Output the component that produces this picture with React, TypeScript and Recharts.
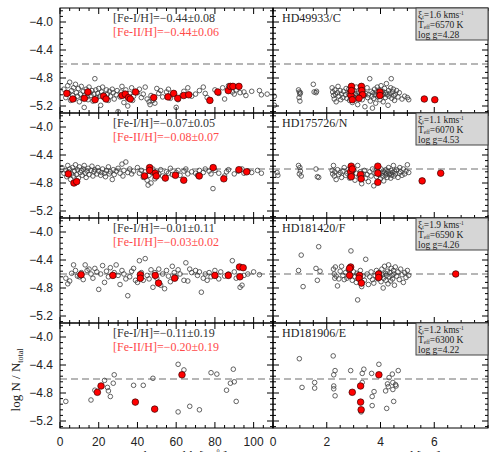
import { ScatterChart, Scatter, XAxis, YAxis, ReferenceLine } from 'recharts'

type Pt = [number, number]

// ---- values: [equivalent width mÅ | excitation eV, log N/Ntotal] ----
const STARS = ['HD49933/C', 'HD175726/N', 'HD181420/F', 'HD181906/E']
const FE1_TEXT = ['[Fe-I/H]=−0.44±0.08', '[Fe-I/H]=−0.07±0.05', '[Fe-I/H]=−0.01±0.11', '[Fe-I/H]=−0.11±0.19']
const FE2_TEXT = ['[Fe-II/H]=−0.44±0.06', '[Fe-II/H]=−0.08±0.07', '[Fe-II/H]=−0.03±0.02', '[Fe-II/H]=−0.20±0.19']
const XI_T = ['1.6', '1.1', '1.9', '1.2']
const T_EFF = ['6570', '6070', '6590', '6300']
const LOG_G = ['4.28', '4.53', '4.26', '4.22']
const SOLAR_FE = -4.6

const EW_TICKS = [0, 5, 10, 15, 20, 25, 30, 35, 40, 45, 50, 55, 60, 65, 70, 75, 80, 85, 90, 95, 100, 105, 110]
const EW_LABELS = [0, 20, 40, 60, 80, 100]
const EP_TICKS = [0, 0.5, 1, 1.5, 2, 2.5, 3, 3.5, 4, 4.5, 5, 5.5, 6, 6.5, 7, 7.5, 8]
const EP_LABELS = [0, 2, 4, 6]
const LOGN_TICKS = [-5.28, -5.2, -5.12, -5.04, -4.96, -4.88, -4.8, -4.72, -4.64, -4.56, -4.48, -4.4, -4.32, -4.24, -4.16, -4.08, -4.0, -3.92, -3.84]
const LOGN_LABELS = [-4.0, -4.4, -4.8, -5.2]

// HD49933
const s1FeIEw: Pt[] = [[2,-4.96],[3,-5.08],[4,-4.91],[4.5,-5.02],[5,-4.86],[5.5,-5.12],[6,-4.98],[6.5,-5.05],[7,-4.94],[7.5,-5.10],[8,-4.89],[8.5,-5.01],[9,-5.06],[9.5,-4.95],[10,-5.14],[10.5,-5.03],[11,-4.92],[11.5,-5.09],[12,-4.99],[12.5,-5.22],[13,-5.04],[13.5,-4.96],[14,-5.07],[14.5,-5.11],[15,-4.93],[15.5,-5.01],[16,-5.05],[16.5,-4.98],[17,-5.13],[17.5,-5.03],[18,-4.81],[18.5,-4.97],[19,-5.08],[19.5,-5.02],[20,-4.95],[20.5,-5.06],[21,-5.19],[21.5,-5.00],[22,-4.93],[22.5,-5.04],[23,-5.09],[24,-4.97],[24.5,-5.03],[25,-5.12],[25.5,-4.99],[26,-5.06],[27,-4.96],[27.5,-5.01],[28,-5.10],[29,-5.04],[29.5,-4.98],[30,-5.28],[31,-5.07],[31.5,-5.00],[32,-4.92],[33,-5.15],[33.5,-5.05],[34,-4.97],[35,-5.20],[35.5,-5.09],[36,-5.02],[37,-4.94],[37.5,-5.12],[38,-5.06],[40,-5.01],[41,-4.96],[42,-5.08],[43,-5.03],[44,-4.93],[45,-5.10],[46,-5.14],[46.5,-5.18],[47,-5.05],[48,-5.12],[49,-5.16],[50,-4.95],[51,-5.02],[52,-4.98],[53,-5.07],[55,-5.00],[56,-4.96],[57,-5.09],[58,-5.03],[60,-5.22],[61,-5.11],[63,-5.05],[64,-4.99],[66,-4.94],[68,-5.06],[70,-5.03],[72,-4.98],[74,-4.93],[75,-5.02],[76,-5.08],[80,-4.97],[82,-5.02],[84,-4.94],[85,-5.10],[87,-4.91],[89,-5.00],[90,-5.03],[91,-4.97],[93,-5.01],[95,-5.00],[96,-5.05],[99,-4.99],[103,-4.98],[104,-5.04],[107,-5.03]]
const s1FeIIEw: Pt[] = [[3.5,-5.02],[6.6,-5.10],[12.6,-5.09],[14.4,-5.00],[18.1,-5.11],[22.5,-5.06],[23.8,-5.10],[32,-5.05],[33.7,-5.03],[35.4,-5.08],[36.3,-5.10],[39,-5.00],[48.4,-5.08],[55.8,-5.07],[58.7,-5.02],[60.8,-5.09],[63.9,-5.05],[66.5,-5.04],[77.4,-5.12],[81.5,-5.00],[86.9,-4.98],[88,-4.92],[89.3,-4.92],[92.4,-4.92]]
const s1FeIEp: Pt[] = [[0.05,-5.06],[0.05,-5.19],[0.95,-4.97],[0.98,-5.00],[1.0,-5.03],[0.97,-5.08],[1.0,-5.13],[1.02,-5.01],[1.5,-4.89],[1.53,-5.00],[1.6,-5.01],[1.62,-4.99],[2.2,-4.94],[2.22,-5.00],[2.25,-5.05],[2.28,-5.10],[2.3,-4.97],[2.32,-5.03],[2.35,-5.14],[2.4,-5.01],[2.42,-4.92],[2.45,-5.06],[2.5,-4.98],[2.52,-5.11],[2.55,-5.03],[2.6,-5.08],[2.62,-4.99],[2.7,-5.04],[2.72,-4.95],[2.75,-5.09],[2.8,-5.02],[2.82,-4.96],[2.85,-5.12],[2.9,-5.05],[2.92,-4.99],[2.95,-5.15],[3.0,-5.07],[3.02,-4.98],[3.05,-5.02],[3.08,-5.10],[3.1,-4.93],[3.12,-5.05],[3.15,-5.18],[3.2,-5.01],[3.22,-5.06],[3.25,-4.96],[3.3,-5.03],[3.32,-5.11],[3.35,-4.99],[3.4,-5.05],[3.42,-5.21],[3.45,-5.02],[3.5,-4.94],[3.52,-5.08],[3.55,-5.04],[3.6,-4.81],[3.62,-5.13],[3.65,-4.99],[3.68,-5.06],[3.7,-5.23],[3.72,-5.01],[3.75,-5.09],[3.78,-4.96],[3.8,-5.04],[3.82,-5.16],[3.85,-5.00],[3.88,-4.93],[3.9,-5.07],[3.92,-5.03],[3.95,-4.97],[3.98,-5.11],[4.0,-5.02],[4.02,-4.91],[4.05,-5.05],[4.08,-4.99],[4.1,-5.14],[4.12,-5.03],[4.15,-4.95],[4.18,-5.08],[4.2,-5.01],[4.22,-4.88],[4.25,-5.04],[4.28,-5.19],[4.3,-4.98],[4.32,-5.06],[4.35,-5.02],[4.38,-4.94],[4.4,-4.81],[4.42,-5.09],[4.45,-5.00],[4.48,-4.96],[4.5,-5.05],[4.52,-5.12],[4.55,-5.03],[4.6,-4.98],[4.65,-5.07],[4.7,-5.01],[4.8,-5.10],[4.9,-5.06],[5.0,-5.08],[5.05,-5.11]]
const s1FeIIEp: Pt[] = [[2.92,-4.92],[2.9,-5.00],[2.9,-5.05],[2.95,-5.11],[2.92,-4.98],[3.29,-4.92],[3.3,-4.98],[3.33,-5.04],[3.2,-5.09],[3.98,-5.00],[3.98,-5.05],[5.63,-5.10],[6.02,-5.11]]

// HD175726
const s2FeIEw: Pt[] = [[1,-4.58],[2,-4.66],[3,-4.62],[3.5,-4.71],[4,-4.55],[4.5,-4.64],[5,-4.60],[5.5,-4.75],[6,-4.67],[6.5,-4.58],[7,-4.70],[7.5,-4.63],[8,-4.54],[8.5,-4.68],[9,-4.61],[9.5,-4.73],[10,-4.57],[10.5,-4.65],[11,-4.62],[11.5,-4.69],[12,-4.60],[12.5,-4.55],[13,-4.66],[13.5,-4.72],[14,-4.63],[14.5,-4.59],[15,-4.68],[16,-4.62],[16.5,-4.56],[17,-4.70],[17.5,-4.64],[18,-4.61],[19,-4.67],[19.5,-4.58],[20,-4.63],[21,-4.69],[21.5,-4.65],[22,-4.60],[23,-4.66],[23.5,-4.71],[24,-4.62],[25,-4.57],[25.5,-4.67],[26,-4.64],[27,-4.75],[27.5,-4.61],[28,-4.68],[29,-4.63],[30,-4.59],[31,-4.66],[32,-4.53],[32.5,-4.70],[33,-4.62],[34,-4.50],[35,-4.65],[36,-4.60],[37,-4.67],[38,-4.63],[40,-4.58],[41,-4.66],[42,-4.62],[43,-4.72],[44,-4.64],[45,-4.76],[45.5,-4.83],[46,-4.69],[47,-4.80],[47.5,-4.65],[48,-4.60],[49,-4.74],[50,-4.63],[51,-4.67],[52,-4.61],[53,-4.70],[55,-4.64],[56,-4.66],[57,-4.59],[58,-4.68],[60,-4.65],[61,-4.62],[62,-4.69],[64,-4.63],[65,-4.60],[66,-4.67],[68,-4.64],[70,-4.66],[71,-4.69],[72,-4.62],[74,-4.65],[75,-4.60],[77,-4.63],[78,-4.67],[79,-4.88],[80,-4.62],[82,-4.66],[85,-4.70],[86,-4.64],[87,-4.61],[90,-4.67],[92,-4.63],[94,-4.60],[95,-4.66],[97,-4.63],[99,-4.65],[102,-4.62],[104,-4.66]]
const s2FeIIEw: Pt[] = [[4.3,-4.67],[7.2,-4.80],[8.6,-4.78],[46.3,-4.58],[46.3,-4.62],[43.7,-4.70],[49.2,-4.66],[49.7,-4.70],[54.4,-4.73],[59.6,-4.69],[63.9,-4.76],[71.9,-4.70],[79.1,-4.58],[84.6,-4.74],[92.4,-4.61],[96.4,-4.64]]
const s2FeIEp: Pt[] = [[0.15,-4.65],[0.18,-4.69],[0.95,-4.55],[1.0,-4.58],[1.02,-4.63],[0.98,-4.67],[1.05,-4.70],[1.6,-4.60],[1.65,-4.71],[1.7,-4.72],[2.2,-4.62],[2.22,-4.67],[2.25,-4.55],[2.28,-4.70],[2.3,-4.64],[2.35,-4.75],[2.4,-4.61],[2.45,-4.68],[2.5,-4.65],[2.55,-4.72],[2.6,-4.63],[2.65,-4.58],[2.7,-4.69],[2.75,-4.66],[2.8,-4.61],[2.85,-4.73],[2.9,-4.65],[2.95,-4.69],[3.0,-4.62],[3.05,-4.76],[3.1,-4.66],[3.15,-4.55],[3.2,-4.70],[3.25,-4.64],[3.3,-4.81],[3.35,-4.67],[3.4,-4.62],[3.45,-4.73],[3.5,-4.68],[3.55,-4.78],[3.6,-4.64],[3.65,-4.70],[3.7,-4.60],[3.75,-4.84],[3.8,-4.66],[3.85,-4.71],[3.9,-4.63],[3.95,-4.68],[4.0,-4.74],[4.02,-4.60],[4.05,-4.66],[4.08,-4.70],[4.1,-4.63],[4.12,-4.77],[4.15,-4.65],[4.18,-4.69],[4.2,-4.61],[4.22,-4.67],[4.25,-4.72],[4.28,-4.64],[4.3,-4.58],[4.32,-4.68],[4.35,-4.66],[4.38,-4.73],[4.4,-4.62],[4.42,-4.69],[4.45,-4.65],[4.48,-4.55],[4.5,-4.70],[4.52,-4.63],[4.55,-4.67],[4.6,-4.61],[4.65,-4.72],[4.7,-4.66],[4.72,-4.58],[4.75,-4.64],[4.8,-4.69],[4.85,-4.60],[4.9,-4.67],[4.95,-4.63],[5.0,-4.54],[5.05,-4.65]]
const s2FeIIEp: Pt[] = [[2.91,-4.56],[2.89,-4.64],[2.91,-4.71],[2.95,-4.60],[3.26,-4.68],[3.28,-4.74],[3.9,-4.56],[3.9,-4.66],[3.9,-4.79],[5.55,-4.77],[6.24,-4.66]]

// HD181420
const s3FeIEw: Pt[] = [[3,-4.66],[4,-4.74],[5,-4.70],[6,-4.59],[7,-4.47],[8,-4.55],[9,-4.63],[10,-4.64],[11,-4.58],[12,-4.68],[13,-4.47],[14,-4.55],[15,-4.53],[16,-4.60],[17,-4.66],[18,-4.52],[19,-4.57],[20,-4.82],[21,-4.60],[22,-4.48],[23,-4.72],[24,-4.56],[25,-4.64],[26,-4.51],[28,-4.58],[29,-4.47],[30,-4.62],[31,-4.75],[32,-4.55],[33,-4.60],[34,-4.67],[35,-4.91],[36,-4.64],[37,-4.56],[38,-4.52],[39,-4.69],[40,-4.72],[41,-4.41],[42,-4.58],[43,-4.69],[44,-4.38],[45,-4.62],[46,-4.67],[47,-4.54],[48,-4.79],[49,-4.58],[50,-4.66],[51,-4.53],[52,-4.76],[53,-4.60],[54,-4.81],[55,-4.55],[56,-4.63],[57,-4.71],[58,-4.49],[59,-4.58],[60,-4.65],[61,-4.54],[62,-4.60],[64,-4.69],[65,-4.44],[66,-4.70],[67,-4.53],[68,-4.58],[70,-4.55],[71,-4.62],[72,-4.57],[73,-4.86],[74,-4.66],[75,-4.60],[76,-4.69],[77,-4.58],[78,-4.64],[80,-4.55],[82,-4.67],[83,-4.57],[85,-4.63],[87,-4.60],[89,-4.41],[90,-4.57],[91,-4.66],[93,-4.79],[94,-4.76],[95,-4.62],[97,-4.60],[100,-4.57],[103,-4.61]]
const s3FeIIEw: Pt[] = [[10.9,-4.61],[27.3,-4.62],[41.5,-4.61],[41.5,-4.66],[49.2,-4.62],[50.9,-4.73],[59.2,-4.66],[80,-4.62],[86.9,-4.62],[92.7,-4.50],[94.6,-4.51],[92.9,-4.64]]
const s3FeIEp: Pt[] = [[0.95,-4.55],[1.05,-4.33],[1.12,-4.78],[1.6,-4.52],[1.65,-4.69],[1.7,-4.21],[1.75,-4.56],[2.25,-4.53],[2.28,-4.60],[2.3,-4.66],[2.32,-4.50],[2.35,-4.63],[2.4,-4.77],[2.45,-4.67],[2.5,-4.56],[2.55,-4.49],[2.6,-4.62],[2.65,-4.68],[2.7,-4.58],[2.75,-4.66],[2.8,-4.54],[2.85,-4.61],[2.9,-4.27],[2.95,-4.69],[3.0,-4.57],[3.05,-4.64],[3.1,-4.72],[3.12,-4.59],[3.15,-4.97],[3.2,-4.66],[3.25,-4.55],[3.3,-4.78],[3.35,-4.63],[3.4,-4.69],[3.45,-4.39],[3.5,-4.60],[3.55,-4.75],[3.6,-4.64],[3.65,-4.57],[3.7,-4.68],[3.75,-4.73],[3.8,-4.62],[3.85,-4.55],[3.9,-4.67],[3.95,-4.58],[4.0,-4.64],[4.02,-4.71],[4.05,-4.53],[4.08,-4.61],[4.1,-4.80],[4.12,-4.66],[4.15,-4.49],[4.18,-4.59],[4.2,-4.69],[4.22,-4.62],[4.25,-4.56],[4.28,-4.74],[4.3,-4.47],[4.32,-4.64],[4.35,-4.58],[4.38,-4.70],[4.4,-4.52],[4.42,-4.62],[4.45,-4.67],[4.48,-4.55],[4.5,-4.60],[4.52,-4.76],[4.55,-4.50],[4.6,-4.63],[4.65,-4.57],[4.7,-4.68],[4.75,-4.53],[4.8,-4.61],[4.85,-4.72],[4.9,-4.58],[4.95,-4.65],[5.0,-4.55],[5.05,-4.62]]
const s3FeIIEp: Pt[] = [[2.89,-4.50],[2.85,-4.52],[2.85,-4.62],[3.22,-4.62],[3.2,-4.66],[3.29,-4.73],[3.93,-4.60],[3.93,-4.65],[6.8,-4.60]]

// HD181906
const s4FeIEw: Pt[] = [[3,-4.92],[16,-4.90],[18,-4.76],[23,-4.62],[24.5,-4.72],[25,-4.77],[26,-4.85],[27.5,-4.66],[28,-4.54],[38,-4.69],[43,-4.69],[48,-4.59],[61,-5.07],[61,-4.39],[64,-4.47],[67,-4.99],[72,-5.04],[78,-4.51],[81,-4.53],[86,-4.76],[88,-4.66],[89.5,-4.46],[90,-4.64],[91,-4.92]]
const s4FeIIEw: Pt[] = [[19.3,-4.79],[21.2,-4.70],[38.9,-4.93],[48.9,-5.03],[63,-4.54]]
const s4FeIEp: Pt[] = [[0.98,-4.31],[2.24,-4.27],[1.08,-4.72],[1.55,-4.65],[1.55,-4.73],[2.26,-4.54],[2.31,-4.48],[2.26,-4.70],[2.26,-4.74],[2.31,-4.84],[2.89,-4.48],[3.32,-4.52],[3.38,-4.46],[3.32,-4.65],[3.67,-4.52],[3.76,-4.78],[3.69,-4.85],[3.69,-4.98],[3.94,-4.39],[3.28,-5.07],[4.19,-4.77],[4.23,-5.02],[4.26,-4.67],[4.32,-4.58],[4.44,-4.53],[4.46,-4.65],[4.46,-4.75],[4.49,-4.92],[4.56,-4.68],[4.58,-4.70],[4.66,-4.48],[4.29,-4.71]]
const s4FeIIEp: Pt[] = [[2.95,-4.79],[3.26,-4.70],[3.26,-4.93],[3.28,-5.04],[3.94,-4.54]]

const FE_I_EW = [s1FeIEw, s2FeIEw, s3FeIEw, s4FeIEw]
const FE_II_EW = [s1FeIIEw, s2FeIIEw, s3FeIIEw, s4FeIIEw]
const FE_I_EP = [s1FeIEp, s2FeIEp, s3FeIEp, s4FeIEp]
const FE_II_EP = [s1FeIIEp, s2FeIIEp, s3FeIIEp, s4FeIIEp]

// ---- layout ----
const W = 501
const H = 452
const ROW_TOP = [8, 113, 218, 323]
const ROW_H = 105
const COLS = { ew: [60, 273], ep: [273, 488] } as const
const TICK_FONT = '"Liberation Sans", Arial, sans-serif'
const TEXT_FONT = '"Liberation Serif", "Times New Roman", serif'

const near = (list: number[], v: number) => list.some((l) => Math.abs(l - v) < 1e-6)
const fmt = (v: number) => v.toFixed(1).replace('-', '−')

function OpenDot(props: any) {
  return <circle cx={props.cx} cy={props.cy} r={2.3} fill="none" stroke="#3c3c3c" strokeWidth={0.8} />
}

function RedDot(props: any) {
  return <circle cx={props.cx} cy={props.cy} r={3.3} fill="#ff0000" stroke="#3a0000" strokeWidth={0.7} />
}

// ticks point inward on both opposite edges, IDL style
function XTick(props: any) {
  const { x, y, payload, labels, showText } = props
  const major = near(labels, payload.value)
  const len = major ? 6 : 3
  return (
    <g>
      <line x1={x} x2={x} y1={y} y2={y - len} stroke="#000" strokeWidth={1} />
      <line x1={x} x2={x} y1={y - ROW_H} y2={y - ROW_H + len} stroke="#000" strokeWidth={1} />
      {showText && major && (
        <text x={x} y={y + 18} textAnchor="middle" fontFamily={TICK_FONT} fontSize={12} fill="#222">
          {payload.value}
        </text>
      )}
    </g>
  )
}

function YTick(props: any) {
  const { x, y, payload, panelW, showText } = props
  const major = near(LOGN_LABELS, payload.value)
  const len = major ? 6 : 3
  return (
    <g>
      <line x1={x} x2={x + len} y1={y} y2={y} stroke="#000" strokeWidth={1} />
      <line x1={x + panelW} x2={x + panelW - len} y1={y} y2={y} stroke="#000" strokeWidth={1} />
      {showText && major && (
        <text x={x - 7} y={y + 4} textAnchor="end" fontFamily={TICK_FONT} fontSize={12} fill="#222">
          {fmt(payload.value)}
        </text>
      )}
    </g>
  )
}

function Panel({ row, kind }: { row: number; kind: 'ew' | 'ep' }) {
  const [x0, x1] = COLS[kind]
  const top = ROW_TOP[row]
  const open = (kind === 'ew' ? FE_I_EW : FE_I_EP)[row].map(([x, y]) => ({ x, y }))
  const red = (kind === 'ew' ? FE_II_EW : FE_II_EP)[row].map(([x, y]) => ({ x, y }))
  const labels = kind === 'ew' ? EW_LABELS : EP_LABELS
  return (
    <div style={{ position: 'absolute', left: 0, top: 0 }}>
      <ScatterChart
        width={W}
        height={H}
        margin={{ top, bottom: H - top - ROW_H - 1, left: x0 - 1, right: W - x1 }}
      >
        <XAxis
          type="number"
          dataKey="x"
          domain={kind === 'ew' ? [0, 110] : [0, 8]}
          ticks={kind === 'ew' ? EW_TICKS : EP_TICKS}
          interval={0}
          height={1}
          tickSize={0}
          tickMargin={0}
          tickLine={false}
          axisLine={false}
          allowDataOverflow
          tick={(p: any) => <XTick {...p} labels={labels} showText={row === 3} />}
        />
        <YAxis
          type="number"
          dataKey="y"
          domain={[-5.3, -3.8]}
          ticks={LOGN_TICKS}
          interval={0}
          width={1}
          tickSize={0}
          tickMargin={0}
          tickLine={false}
          axisLine={false}
          allowDataOverflow
          tick={(p: any) => <YTick {...p} panelW={x1 - x0} showText={kind === 'ew'} />}
        />
        <ReferenceLine y={SOLAR_FE} stroke="#6e6e6e" strokeDasharray="7 4" strokeWidth={1.2} />
        <Scatter data={open} isAnimationActive={false} shape={OpenDot} />
        <Scatter data={red} isAnimationActive={false} shape={RedDot} />
      </ScatterChart>
    </div>
  )
}

function Overlay() {
  return (
    <svg
      width={W}
      height={H}
      style={{ position: 'absolute', left: 0, top: 0, pointerEvents: 'none' }}
    >
      {ROW_TOP.map((top, i) => (
        <g key={i}>
          <rect x={60} y={top} width={213} height={ROW_H} fill="none" stroke="#000" strokeWidth={1} />
          <rect x={273} y={top} width={215} height={ROW_H} fill="none" stroke="#000" strokeWidth={1} />
          <text x={113} y={top + 14} fontFamily={TEXT_FONT} fontSize={12} fill="#333">
            {FE1_TEXT[i]}
          </text>
          <text x={113} y={top + 28} fontFamily={TEXT_FONT} fontSize={12} fill="#ff4a4a">
            {FE2_TEXT[i]}
          </text>
          <text x={282} y={top + 14} fontFamily={TEXT_FONT} fontSize={12} fill="#222">
            {STARS[i]}
          </text>
          <rect x={416} y={top} width={72} height={32} fill="#d6d6d6" stroke="#444" strokeWidth={1} />
          <g fontFamily={TEXT_FONT} fontSize={9.5} fill="#222">
            <text x={418} y={top + 9.5}>
              ξ<tspan fontSize={5.5} dy={1.5}>t</tspan>
              <tspan dy={-1.5}>={XI_T[i]}  kms</tspan>
              <tspan fontSize={5.5} dy={-3}>-1</tspan>
            </text>
            <text x={418} y={top + 19.5}>
              T<tspan fontSize={5.5} dy={1.5}>eff</tspan>
              <tspan dy={-1.5}>={T_EFF[i]}  K</tspan>
            </text>
            <text x={418} y={top + 29.5}>log  g={LOG_G[i]}</text>
          </g>
        </g>
      ))}
      <text
        transform="translate(20 380) rotate(-90)"
        textAnchor="middle"
        fontFamily={TEXT_FONT}
        fontSize={13}
        fill="#222"
      >
        log N / N<tspan fontSize={8} dy={3}>total</tspan>
      </text>
      <text x={167} y={460} textAnchor="middle" fontFamily={TEXT_FONT} fontSize={13} fill="#222">
        Equivalent width [mÅ]
      </text>
      <text x={376} y={460} textAnchor="middle" fontFamily={TEXT_FONT} fontSize={13} fill="#222">
        Excitation potential [eV]
      </text>
    </svg>
  )
}

export default function App() {
  return (
    <div style={{ position: 'absolute', left: 0, top: 0, width: W, height: H, background: '#fff', overflow: 'hidden' }}>
      {[0, 1, 2, 3].map((r) => (
        <Panel key={`ew${r}`} row={r} kind="ew" />
      ))}
      {[0, 1, 2, 3].map((r) => (
        <Panel key={`ep${r}`} row={r} kind="ep" />
      ))}
      <Overlay />
    </div>
  )
}
